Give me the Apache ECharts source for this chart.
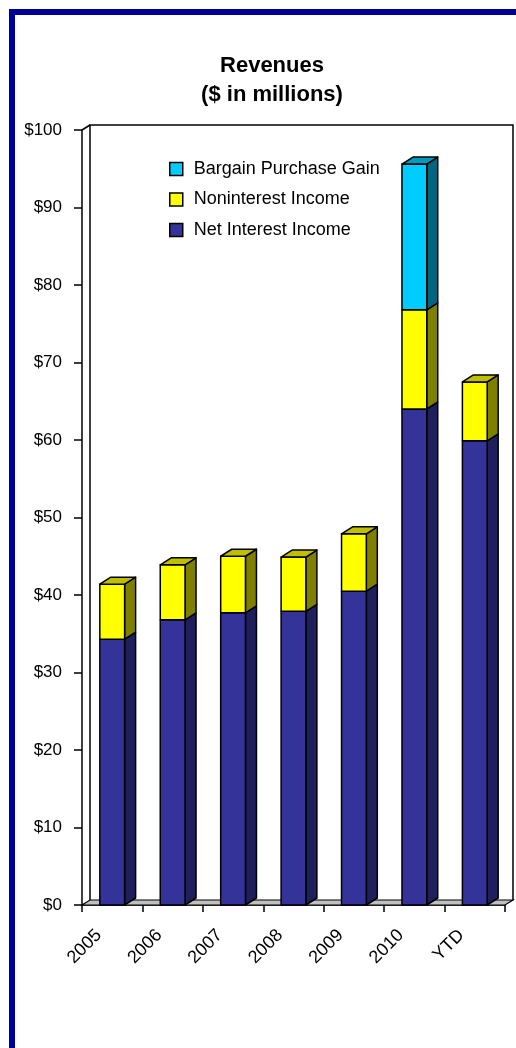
<!DOCTYPE html>
<html>
<head>
<meta charset="utf-8">
<script src="https://cdn.jsdelivr.net/npm/echarts@6/dist/echarts.min.js"></script>
<style>
html,body{margin:0;padding:0;background:#fff;}
#chart{width:516px;height:1048px;}
</style>
</head>
<body>
<div id="chart"></div>
<script>
const categories = ['2005', '2006', '2007', '2008', '2009', '2010', 'YTD'];
const netInterestIncome = [34.3, 36.8, 37.7, 37.9, 40.5, 64.0, 59.9];
const noninterestIncome = [7.1, 7.1, 7.3, 7.0, 7.4, 12.8, 7.6];
const bargainPurchaseGain = [0, 0, 0, 0, 0, 18.8, 0];
const yTicks = [0, 10, 20, 30, 40, 50, 60, 70, 80, 90, 100];

const FONT = 'Liberation Sans, Arial, sans-serif';
const seriesDefs = [
  { name: 'Net Interest Income', values: netInterestIncome, front: '#333399', side: '#1F1F5C', top: '#262673' },
  { name: 'Noninterest Income', values: noninterestIncome, front: '#FFFF00', side: '#808000', top: '#BFBF00' },
  { name: 'Bargain Purchase Gain', values: bargainPurchaseGain, front: '#00CCFF', side: '#006680', top: '#0099BF' }
];

// stacked bases computed from the arrays
const stackData = seriesDefs.map(function (def, si) {
  return categories.map(function (c, i) {
    let base = 0;
    for (let k = 0; k < si; k++) base += seriesDefs[k].values[i];
    const top = base + def.values[i];
    let isTop = 1;
    for (let k = si + 1; k < seriesDefs.length; k++) if (seriesDefs[k].values[i] > 0) isTop = 0;
    return [i, base, top, isTop];
  });
});

const DX = 11, DY = 7;
function makeRender(def) {
  return function (params, api) {
    const i = api.value(0), lo = api.value(1), hi = api.value(2), isTop = api.value(3);
    if (!(hi > lo)) return null;
    const pLo = api.coord([i, lo]);
    const pHi = api.coord([i, hi]);
    const w = api.size([1, 0])[0] * 0.41;
    const x0 = pLo[0] - w / 2, x1 = pLo[0] + w / 2;
    const yl = pLo[1], yh = pHi[1];
    const st = { stroke: '#000', lineWidth: 1.5, lineJoin: 'round' };
    const children = [
      { type: 'polygon', shape: { points: [[x1, yl], [x1 + DX, yl - DY], [x1 + DX, yh - DY], [x1, yh]] },
        style: Object.assign({ fill: def.side }, st) },
      { type: 'rect', shape: { x: x0, y: yh, width: w, height: yl - yh },
        style: Object.assign({ fill: def.front }, st) }
    ];
    if (isTop) {
      children.push({ type: 'polygon', shape: { points: [[x0, yh], [x1, yh], [x1 + DX, yh - DY], [x0 + DX, yh - DY]] },
        style: Object.assign({ fill: def.top }, st) });
    }
    return { type: 'group', children: children };
  };
}

function renderWalls(params, api) {
  const cs = params.coordSys;
  const x = cs.x, y = cs.y, w = cs.width, h = cs.height;
  const dx = 8, dy = 5;
  const st = { stroke: '#000', lineWidth: 1.5, fill: null };
  return {
    type: 'group',
    children: [
      { type: 'polygon', shape: { points: [[x, y + h], [x + w, y + h], [x + w + dx, y + h - dy], [x + dx, y + h - dy]] },
        style: { fill: '#C0C0C0', stroke: '#000', lineWidth: 1.2 } },
      { type: 'polyline', shape: { points: [[x + dx, y + h - dy], [x + dx, y - dy], [x + w + dx, y - dy], [x + w + dx, y + h - dy]] }, style: st },
      { type: 'line', shape: { x1: x, y1: y, x2: x + dx, y2: y - dy }, style: st }
    ]
  };
}

const series = [{
  type: 'custom',
  silent: true,
  z: 1,
  renderItem: renderWalls,
  data: [[0, 0]],
  encode: { x: 0, y: 1 }
}];
seriesDefs.forEach(function (def, si) {
  series.push({
    type: 'custom',
    name: def.name,
    z: 2 + si,
    renderItem: makeRender(def),
    itemStyle: { color: def.front, borderColor: '#000', borderWidth: 1.5 },
    data: stackData[si],
    encode: { x: 0, y: [1, 2] },
    clip: false
  });
});

const chart = echarts.init(document.getElementById('chart'), null, { renderer: 'canvas' });
chart.setOption({
  animation: false,
  backgroundColor: '#fff',
  textStyle: { fontFamily: FONT },
  title: {
    text: 'Revenues\n($ in millions)',
    left: 267,
    textAlign: 'center',
    top: 46,
    textStyle: { fontFamily: FONT, fontSize: 22, fontWeight: 'bold', color: '#000', lineHeight: 29 }
  },
  legend: {
    orient: 'vertical',
    left: 164,
    top: 155,
    itemWidth: 13,
    itemHeight: 13,
    itemGap: 12.5,
    icon: 'rect',
    itemStyle: { borderColor: '#000', borderWidth: 1.5 },
    data: ['Bargain Purchase Gain', 'Noninterest Income', 'Net Interest Income'],
    textStyle: { fontFamily: FONT, fontSize: 18, color: '#000', lineHeight: 18, padding: [0, 0, 0, 6] }
  },
  grid: { left: 82, right: 11, top: 130, bottom: 143, containLabel: false },
  xAxis: {
    type: 'category',
    data: categories,
    boundaryGap: true,
    axisLine: { show: true, lineStyle: { color: '#000', width: 1.5 } },
    axisTick: { show: true, length: 7, lineStyle: { color: '#000', width: 1.5 } },
    axisLabel: { rotate: 45, fontSize: 18, color: '#000', fontFamily: FONT, margin: 14, padding: [0, 19, 0, 0], interval: 0 },
    splitLine: { show: false }
  },
  yAxis: {
    type: 'value',
    min: yTicks[0],
    max: yTicks[yTicks.length - 1],
    interval: 10,
    axisLine: { show: true, lineStyle: { color: '#000', width: 1.5 } },
    axisTick: { show: true, length: 8, lineStyle: { color: '#000', width: 1.5 } },
    axisLabel: { fontSize: 17, color: '#000', fontFamily: FONT, margin: 20, formatter: function (v) { return '$' + v; } },
    splitLine: { show: false }
  },
  graphic: [{
    type: 'rect',
    silent: true,
    z: 100,
    shape: { x: 12, y: 12, width: 700, height: 1200 },
    style: { fill: null, stroke: '#000099', lineWidth: 6 }
  }],
  series: series
});
</script>
</body>
</html>
